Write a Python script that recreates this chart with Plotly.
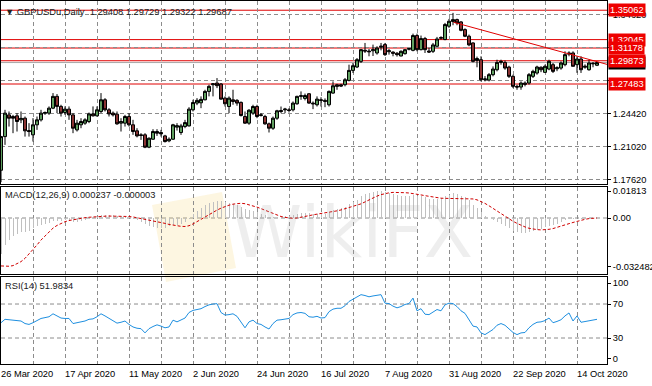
import plotly.graph_objects as go

W, H = 652, 386

# ---------------- data ----------------
date_labels = ["26 Mar 2020", "17 Apr 2020", "11 May 2020", "2 Jun 2020", "24 Jun 2020",
               "16 Jul 2020", "7 Aug 2020", "31 Aug 2020", "22 Sep 2020", "14 Oct 2020"]
date_label_idx = [0, 16, 32, 48, 64, 80, 96, 112, 128, 144]

opens = [1.1862, 1.2208, 1.2431, 1.2414, 1.2421, 1.2380, 1.2397, 1.2270, 1.2226, 1.2329,
         1.2380, 1.2449, 1.2449, 1.2500, 1.2621, 1.2518, 1.2455, 1.2490, 1.2431, 1.2277,
         1.2329, 1.2346, 1.2363, 1.2441, 1.2421, 1.2466, 1.2586, 1.2483, 1.2449, 1.2438,
         1.2346, 1.2346, 1.2414, 1.2329, 1.2267, 1.2226, 1.2226, 1.2099, 1.2181, 1.2260,
         1.2250, 1.2215, 1.2164, 1.2181, 1.2305, 1.2250, 1.2311, 1.2318, 1.2483, 1.2552,
         1.2555, 1.2586, 1.2672, 1.2741, 1.2758, 1.2748, 1.2603, 1.2517, 1.2586, 1.2580,
         1.2559, 1.2414, 1.2346, 1.2449, 1.2517, 1.2425, 1.2414, 1.2339, 1.2294, 1.2397,
         1.2476, 1.2483, 1.2483, 1.2483, 1.2545, 1.2621, 1.2600, 1.2648, 1.2552, 1.2535,
         1.2586, 1.2580, 1.2535, 1.2655, 1.2740, 1.2740, 1.2741, 1.2785, 1.2888, 1.2923,
         1.2981, 1.3095, 1.3087, 1.3090, 1.3067, 1.3127, 1.3153, 1.3080, 1.3076, 1.3064,
         1.3036, 1.3060, 1.3105, 1.3094, 1.3246, 1.3101, 1.3215, 1.3087, 1.3084, 1.3136,
         1.3218, 1.3205, 1.3342, 1.3390, 1.3410, 1.3386, 1.3307, 1.3239, 1.3170, 1.2990,
         1.2998, 1.2792, 1.2789, 1.2844, 1.2895, 1.2970, 1.2970, 1.2922, 1.2827, 1.2724,
         1.2717, 1.2758, 1.2758, 1.2827, 1.2861, 1.2920, 1.2868, 1.2902, 1.2947, 1.2905,
         1.2912, 1.2947, 1.3055, 1.3067, 1.2947, 1.3005, 1.2920, 1.2895, 1.2955, 1.29408]
highs = [1.2215, 1.2483, 1.2466, 1.2431, 1.2449, 1.2466, 1.2414, 1.2346, 1.2397, 1.2414,
         1.2483, 1.2466, 1.2518, 1.2655, 1.2645, 1.2535, 1.2518, 1.2518, 1.2449, 1.2380,
         1.2397, 1.2397, 1.2455, 1.2518, 1.2518, 1.2655, 1.2603, 1.2500, 1.2466, 1.2466,
         1.2397, 1.2431, 1.2449, 1.2380, 1.2294, 1.2243, 1.2243, 1.2200, 1.2284, 1.2284,
         1.2277, 1.2226, 1.2200, 1.2339, 1.2346, 1.2339, 1.2380, 1.2510, 1.2586, 1.2603,
         1.2621, 1.2689, 1.2741, 1.2758, 1.2809, 1.2758, 1.2621, 1.2621, 1.2689, 1.2593,
         1.2569, 1.2466, 1.2490, 1.2535, 1.2535, 1.2449, 1.2431, 1.2352, 1.2414, 1.2483,
         1.2517, 1.2503, 1.2500, 1.2569, 1.2628, 1.2672, 1.2650, 1.2655, 1.2569, 1.2621,
         1.2612, 1.2600, 1.2682, 1.2775, 1.2750, 1.2750, 1.2810, 1.2947, 1.2964, 1.3015,
         1.3108, 1.3170, 1.3108, 1.3153, 1.3136, 1.3170, 1.3170, 1.3108, 1.3084, 1.3077,
         1.3094, 1.3108, 1.3118, 1.3266, 1.3266, 1.3246, 1.3232, 1.3118, 1.3170, 1.3232,
         1.3239, 1.3376, 1.3417, 1.3479, 1.3420, 1.3395, 1.3320, 1.3256, 1.3177, 1.3030,
         1.3033, 1.2830, 1.2861, 1.2929, 1.2998, 1.2998, 1.2990, 1.2936, 1.2844, 1.2741,
         1.2775, 1.2775, 1.2861, 1.2895, 1.2936, 1.2930, 1.2947, 1.2998, 1.2964, 1.2930,
         1.2981, 1.3084, 1.3084, 1.3084, 1.3033, 1.3033, 1.2950, 1.2998, 1.2975, 1.29729]
lows = [1.1740, 1.2123, 1.2311, 1.2243, 1.2260, 1.2346, 1.2208, 1.2208, 1.2157, 1.2277,
        1.2363, 1.2431, 1.2431, 1.2490, 1.2449, 1.2414, 1.2431, 1.2380, 1.2243, 1.2260,
        1.2294, 1.2329, 1.2346, 1.2414, 1.2414, 1.2449, 1.2466, 1.2414, 1.2414, 1.2329,
        1.2260, 1.2311, 1.2311, 1.2226, 1.2200, 1.2174, 1.2089, 1.2089, 1.2174, 1.2215,
        1.2208, 1.2147, 1.2150, 1.2174, 1.2270, 1.2226, 1.2294, 1.2311, 1.2466, 1.2531,
        1.2500, 1.2580, 1.2621, 1.2621, 1.2706, 1.2586, 1.2517, 1.2449, 1.2535, 1.2525,
        1.2414, 1.2339, 1.2329, 1.2431, 1.2397, 1.2414, 1.2329, 1.2250, 1.2277, 1.2380,
        1.2449, 1.2449, 1.2455, 1.2466, 1.2535, 1.2586, 1.2580, 1.2545, 1.2490, 1.2517,
        1.2517, 1.2510, 1.2517, 1.2648, 1.2689, 1.2717, 1.2724, 1.2775, 1.2861, 1.2912,
        1.2964, 1.3067, 1.3033, 1.3036, 1.3050, 1.3094, 1.3036, 1.3050, 1.3033, 1.3030,
        1.3033, 1.3050, 1.3094, 1.3084, 1.3084, 1.3094, 1.3067, 1.3067, 1.3067, 1.3130,
        1.3205, 1.3198, 1.3325, 1.3352, 1.3352, 1.3290, 1.3230, 1.3136, 1.2970, 1.2920,
        1.2775, 1.2775, 1.2775, 1.2827, 1.2878, 1.2947, 1.2895, 1.2810, 1.2706, 1.2689,
        1.2689, 1.2724, 1.2741, 1.2810, 1.2844, 1.2870, 1.2861, 1.2890, 1.2861, 1.2880,
        1.2895, 1.2930, 1.3033, 1.2929, 1.2863, 1.2862, 1.2905, 1.2885, 1.2920, 1.29322]
closes = [1.2208, 1.2449, 1.2397, 1.2397, 1.2363, 1.2395, 1.2267, 1.2260, 1.2329, 1.2380,
          1.2449, 1.2455, 1.2500, 1.2621, 1.2518, 1.2449, 1.2490, 1.2431, 1.2294, 1.2346,
          1.2363, 1.2380, 1.2441, 1.2421, 1.2483, 1.2586, 1.2483, 1.2441, 1.2431, 1.2339,
          1.2363, 1.2414, 1.2329, 1.2260, 1.2215, 1.2220, 1.2099, 1.2191, 1.2260, 1.2243,
          1.2236, 1.2157, 1.2181, 1.2329, 1.2320, 1.2318, 1.2352, 1.2490, 1.2558, 1.2580,
          1.2590, 1.2672, 1.2724, 1.2750, 1.2731, 1.2593, 1.2545, 1.2603, 1.2569, 1.2552,
          1.2425, 1.2346, 1.2479, 1.2517, 1.2414, 1.2431, 1.2339, 1.2294, 1.2397, 1.2473,
          1.2466, 1.2490, 1.2476, 1.2552, 1.2621, 1.2628, 1.2630, 1.2552, 1.2545, 1.2593,
          1.2580, 1.2570, 1.2672, 1.2730, 1.2724, 1.2727, 1.2792, 1.2888, 1.2936, 1.2998,
          1.3101, 1.3087, 1.3080, 1.3101, 1.3118, 1.3136, 1.3050, 1.3090, 1.3064, 1.3050,
          1.3084, 1.3101, 1.3112, 1.3246, 1.3101, 1.3215, 1.3101, 1.3077, 1.3150, 1.3211,
          1.3225, 1.3359, 1.3393, 1.3410, 1.3376, 1.3300, 1.3239, 1.3150, 1.2981, 1.3010,
          1.2792, 1.2800, 1.2844, 1.2902, 1.2970, 1.2980, 1.2912, 1.2827, 1.2724, 1.2717,
          1.2758, 1.2745, 1.2844, 1.2878, 1.2923, 1.2895, 1.2930, 1.2981, 1.2878, 1.2915,
          1.2964, 1.3050, 1.3065, 1.2930, 1.3005, 1.2895, 1.2930, 1.2964, 1.2960, 1.29687]

macd_main = [-0.0240, -0.0180, -0.0145, -0.0120, -0.0105, -0.0095, -0.0095, -0.0090, -0.0065, -0.0055,
             -0.0045, -0.0038, -0.0032, -0.0022, -0.0019, -0.0018, -0.0016, -0.0018, -0.0024, -0.0024,
             -0.0020, -0.0014, -0.0008, -0.0004, 0.0004, 0.0018, 0.0022, 0.0022, 0.0020, 0.0014,
             0.0012, 0.0012, 0.0004, -0.0006, -0.0016, -0.0026, -0.0040, -0.0052, -0.0060, -0.0065,
             -0.0066, -0.0068, -0.0054, -0.0050, -0.0046, -0.0040, -0.0028, -0.0005, 0.0025, 0.0048,
             0.0068, 0.0085, 0.0098, 0.0108, 0.0114, 0.0112, 0.0105, 0.0100, 0.0095, 0.0088,
             0.0075, 0.0060, 0.0055, 0.0050, 0.0038, 0.0030, 0.0018, 0.0006, 0.0004, 0.0008,
             0.0010, 0.0012, 0.0012, 0.0018, 0.0026, 0.0032, 0.0036, 0.0032, 0.0028, 0.0030,
             0.0030, 0.0030, 0.0040, 0.0052, 0.0060, 0.0066, 0.0076, 0.0092, 0.0108, 0.0124,
             0.0145, 0.0160, 0.0170, 0.0177, 0.0181, 0.01813, 0.0175, 0.0170, 0.0163, 0.0156,
             0.0151, 0.0148, 0.0146, 0.0155, 0.0146, 0.0148, 0.0138, 0.0130, 0.0128, 0.0130,
             0.0133, 0.0145, 0.0157, 0.0165, 0.0160, 0.0150, 0.0138, 0.0122, 0.0090, 0.0070,
             0.0040, 0.0015, -0.0002, -0.0015, -0.0030, -0.0042, -0.0055, -0.0070, -0.0085, -0.0095,
             -0.0100, -0.0100, -0.0095, -0.0088, -0.0080, -0.0072, -0.0062, -0.0052, -0.0046, -0.0040,
             -0.0030, -0.0016, -0.0006, -0.0010, -0.0002, -0.0006, -0.0004, 0.0000, 0.0001, 0.000237]
macd_signal = [-0.0322, -0.032482, -0.0324, -0.0320, -0.0309, -0.0293, -0.0271, -0.0242, -0.0215, -0.0181,
               -0.0148, -0.0121, -0.0090, -0.0068, -0.0050, -0.0036, -0.0025, -0.0017, -0.0011, -0.0006,
               -0.0002, 0.0002, 0.0005, 0.0008, 0.0010, 0.0011, 0.0012, 0.0013, 0.0013, 0.0013,
               0.0012, 0.0011, 0.0010, 0.0007, 0.0002, -0.0003, -0.0008, -0.0013, -0.0018, -0.0023,
               -0.0029, -0.0036, -0.0043, -0.0049, -0.0054, -0.0056, -0.0057, -0.0052, -0.0040, -0.0024,
               -0.0008, 0.0008, 0.0024, 0.0039, 0.0053, 0.0066, 0.0077, 0.0086, 0.0093, 0.0097,
               0.0099, 0.0096, 0.0090, 0.0082, 0.0073, 0.0063, 0.0052, 0.0041, 0.0030, 0.0019,
               0.0010, 0.0004, 0.0000, -0.0002, 0.0000, 0.0004, 0.0010, 0.0016, 0.0021, 0.0026,
               0.0030, 0.0032, 0.0036, 0.0042, 0.0048, 0.0054, 0.0062, 0.0070, 0.0077, 0.0085,
               0.0095, 0.0108, 0.0122, 0.0135, 0.0147, 0.0157, 0.0164, 0.0169, 0.0172, 0.0173,
               0.0172, 0.0170, 0.0168, 0.0165, 0.0160, 0.0155, 0.0150, 0.0145, 0.0140, 0.0136,
               0.0133, 0.0132, 0.0131, 0.0131, 0.0131, 0.0131, 0.0131, 0.0130, 0.0128, 0.0122,
               0.0112, 0.0098, 0.0082, 0.0064, 0.0046, 0.0028, 0.0011, -0.0006, -0.0022, -0.0036,
               -0.0049, -0.0060, -0.0069, -0.0075, -0.0078, -0.0080, -0.0079, -0.0076, -0.0071, -0.0064,
               -0.0056, -0.0047, -0.0038, -0.0030, -0.0022, -0.0015, -0.0009, -0.0004, -0.0001, -0.000003]

rsi = [48, 52, 51.5, 51, 51, 50, 47, 46, 48, 51,
       53, 54, 55, 58.5, 56, 53.5, 53, 53, 47, 48,
       49, 50, 52, 52.5, 55, 58.5, 56, 53, 51, 47.5,
       48.5, 50, 46, 43, 41.5, 41, 36, 41, 43.5, 45.5,
       44, 42, 43, 51, 49, 51, 53.5, 60, 62.5, 63.5,
       64.5, 67, 69, 70, 70.4, 60, 57, 57.5, 58.5, 55.5,
       49, 42, 49, 51, 47, 46, 43, 40.6, 47, 51,
       51.5, 52, 53, 57.5, 59.5, 60, 59, 55, 54.5, 55.5,
       53.5, 54, 61, 64, 65, 65, 68, 73, 76, 79,
       81, 80, 78.5, 79.5, 80.5, 81, 71, 70.5, 67.5, 65.5,
       67, 69.5, 70.5, 77, 62, 64.5, 58, 57.5, 60.5, 63.5,
       62, 69, 71, 70.5, 67, 62, 59, 52, 44, 43,
       36, 34, 37, 40, 45, 47, 45, 41, 36.5, 34,
       36, 36.5, 42, 46, 48.5, 49, 50.5, 53.5, 48, 49.5,
       51.5, 56, 59.5, 50, 56, 48.5, 49.5, 50.5, 51, 51.9834]

levels = [1.35062, 1.32045, 1.31178, 1.29873, 1.27483]
bid_price = closes[-1]
trend_x = [113.1, 151.5]
trend_y = [1.3383, 1.2950]
price_ticks = [1.17620, 1.21020, 1.24420, 1.27820, 1.31220, 1.34620]
price_tick_text = ["1.17620", "1.21020", "1.24420", "", "", "1.34620"]
macd_ticks = [0.01813, 0.0, -0.032482]
macd_tick_text = ["0.01813", "0.00", "-0.032482"]
rsi_levels = [70, 30]
rsi_tick_vals = [94.7, 70, 30, 5.3]
rsi_tick_text = ["100", "70", "30", "0"]
grid_idx = list(range(8, 152, 8))

# ---------------- helpers ----------------
def fx(p):
    return p / W

def fy(p):
    return 1 - p / H

FONT = "Liberation Sans"
FS = 9.3
GRID = "#8c8c8c"
GDASH = "4px,3px"
x = list(range(len(closes)))

fig = go.Figure()

# main panel
fig.add_trace(go.Candlestick(
    x=x, open=opens, high=highs, low=lows, close=closes,
    increasing=dict(line=dict(color="black", width=1), fillcolor="#5f9f5f"),
    decreasing=dict(line=dict(color="black", width=1), fillcolor="#8b3333"),
    whiskerwidth=0, xaxis="x", yaxis="y", hoverinfo="skip", showlegend=False))
fig.add_trace(go.Scatter(x=trend_x, y=trend_y, mode="lines", line=dict(color="#e00000", width=1),
                         xaxis="x", yaxis="y", showlegend=False, hoverinfo="skip"))

# MACD panel
fig.add_trace(go.Bar(x=x, y=macd_main, width=0.25, marker=dict(color="#c0c0c0", line=dict(width=0)),
                     xaxis="x2", yaxis="y2", showlegend=False, hoverinfo="skip"))
fig.add_trace(go.Scatter(x=x, y=macd_signal, mode="lines",
                         line=dict(color="#d00000", width=1, dash="3px,2px"),
                         xaxis="x2", yaxis="y2", showlegend=False, hoverinfo="skip"))

# RSI panel
fig.add_trace(go.Scatter(x=x, y=rsi, mode="lines", line=dict(color="#1e8fe0", width=1),
                         xaxis="x3", yaxis="y3", showlegend=False, hoverinfo="skip"))

shapes = []
for lv in levels:
    shapes.append(dict(type="line", xref="x domain", x0=0, x1=1, yref="y", y0=lv, y1=lv,
                       line=dict(color="#e00000", width=1), layer="below"))
shapes.append(dict(type="line", xref="x domain", x0=0, x1=1, yref="y", y0=bid_price, y1=bid_price,
                   line=dict(color="#a8a8a8", width=1), layer="below"))
shapes.append(dict(type="line", xref="x2 domain", x0=0, x1=1, yref="y2", y0=0, y1=0,
                   line=dict(color=GRID, width=1, dash=GDASH), layer="below"))
for lv in rsi_levels:
    shapes.append(dict(type="line", xref="x3 domain", x0=0, x1=1, yref="y3", y0=lv, y1=lv,
                       line=dict(color=GRID, width=1, dash=GDASH), layer="below"))
# watermark logo
shapes.append(dict(type="path", xref="paper", yref="paper",
                   path="M %f %f L %f %f L %f %f L %f %f Z" % (fx(152), fy(205), fx(222), fy(192), fx(236), fy(268), fx(166), fy(282)),
                   fillcolor="rgba(245,215,120,0.22)", line=dict(width=0), layer="below"))

annotations = []
annotations.append(dict(text="WikiFX", xref="paper", yref="paper", x=fx(352), y=fy(232),
                        xanchor="center", yanchor="middle", showarrow=False,
                        font=dict(family="DejaVu Sans", size=72, color="rgba(170,170,170,0.20)")))
# header texts
annotations.append(dict(text="▼ GBPUSDu,Daily  %.5f %.5f %.5f %.5f" % (opens[-1], highs[-1], lows[-1], closes[-1]),
                        xref="paper", yref="paper", x=fx(3), y=fy(12), xanchor="left", yanchor="middle",
                        showarrow=False, font=dict(family=FONT, size=FS, color="#202020")))
annotations.append(dict(text="MACD(12,26,9) %.6f %.6f" % (macd_main[-1], macd_signal[-1]),
                        xref="paper", yref="paper", x=fx(3), y=fy(195), xanchor="left", yanchor="middle",
                        showarrow=False, font=dict(family=FONT, size=FS, color="#202020")))
annotations.append(dict(text="RSI(14) %.4f" % rsi[-1],
                        xref="paper", yref="paper", x=fx(3), y=fy(286), xanchor="left", yanchor="middle",
                        showarrow=False, font=dict(family=FONT, size=FS, color="#202020")))
# bid label (black, partly hidden)
annotations.append(dict(text="%.5f" % bid_price, xref="paper", yref="y", x=fx(608), y=bid_price,
                        xanchor="left", yanchor="middle", showarrow=False, bgcolor="black", borderpad=1,
                        font=dict(family=FONT, size=FS, color="white")))
for lv in levels:
    annotations.append(dict(text="%.5f" % lv, xref="paper", yref="y", x=fx(608), y=lv,
                            xanchor="left", yanchor="middle", showarrow=False, bgcolor="#ee0000", borderpad=1,
                            font=dict(family=FONT, size=FS, color="white")))
for idx, lab in zip(date_label_idx, date_labels):
    annotations.append(dict(text=lab, xref="x3", yref="paper", x=idx, y=fy(374), xanchor="left",
                            yanchor="middle", showarrow=False, xshift=-2,
                            font=dict(family=FONT, size=FS, color="black")))

xbase = dict(range=[0, 151.5], domain=[fx(1), fx(607)], showgrid=True, gridcolor=GRID, griddash=GDASH,
             gridwidth=1, tickmode="array", tickvals=grid_idx, showticklabels=False, ticks="",
             showline=True, linecolor="black", linewidth=1, mirror=True, zeroline=False,
             rangeslider=dict(visible=False), fixedrange=True)
ybase = dict(side="right", showline=True, linecolor="black", linewidth=1, mirror=True, zeroline=False,
             ticks="outside", ticklen=3, tickcolor="black", tickfont=dict(family=FONT, size=FS, color="black"),
             fixedrange=True)

fig.update_layout(
    width=W, height=H, margin=dict(l=0, r=0, t=0, b=0, autoexpand=False),
    paper_bgcolor="white", plot_bgcolor="white", showlegend=False,
    boxgap=0.25, boxgroupgap=0, bargap=0,
    xaxis=dict(xbase, anchor="y"),
    xaxis2=dict(xbase, anchor="y2", matches="x"),
    xaxis3=dict(xbase, anchor="y3", matches="x"),
    yaxis=dict(ybase, domain=[fy(184), fy(0.5)], range=[1.17208, 1.36062], anchor="x",
               tickmode="array", tickvals=price_ticks, ticktext=price_tick_text,
               showgrid=True, gridcolor=GRID, griddash=GDASH),
    yaxis2=dict(ybase, domain=[fy(274), fy(187)], range=[-0.03761, 0.02082], anchor="x2",
                tickmode="array", tickvals=macd_ticks, ticktext=macd_tick_text, showgrid=False),
    yaxis3=dict(ybase, domain=[fy(364), fy(277)], range=[-0.6, 101.8], anchor="x3",
                tickmode="array", tickvals=rsi_tick_vals, ticktext=rsi_tick_text, showgrid=False),
    shapes=shapes, annotations=annotations,
)

fig.write_html("out.html", config={"displayModeBar": False, "staticPlot": True},
               post_script="document.body.style.margin='0px';document.body.style.padding='0px';")
